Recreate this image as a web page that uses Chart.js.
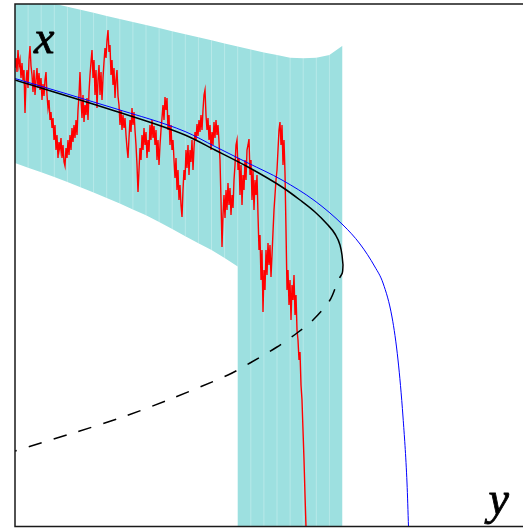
<!DOCTYPE html>
<html><head><meta charset="utf-8">
<script src="https://cdn.jsdelivr.net/npm/chart.js@4.4.1/dist/chart.umd.min.js"></script>
<style>html,body{margin:0;padding:0;background:#fff;overflow:hidden}</style>
</head><body>
<canvas id="c" width="523" height="528"></canvas>
<script>
const axisNames = ['x', 'y'];
const bandX = [0,1.31,2.62,3.93,5.24,6.55,7.86,9.17,10.48,11.79,13.1,14.41,15.72,17.03,18.34,19.65,20.96,22.27,23.58,24.89,26.2,27.51,28.82,30.13,31.44,32.75];
const bandUpper = [53.2,52.89,52.59,52.28,51.98,51.67,51.37,51.06,50.76,50.45,50.15,49.84,49.53,49.23,48.92,48.62,48.31,48.01,47.7,47.4,47.15,46.88,46.82,46.88,47.15,48.08];
const bandLower = [36.35,35.88,35.42,34.95,34.45,33.92,33.39,32.86,32.29,31.71,31.13,30.45,29.74,29.03,28.33,27.64,26.85,26.0];
const bandFloor = 0;
const blackSolidU = [0,10,17,20,23.3,26.7,28.5,30,31.2,32,32.5,32.7,32.8];
const blackSolidV = [44.65,41.55,39.15,37.65,35.95,33.95,32.65,31.45,30.25,29.25,28.15,27.15,26.15];
const blackDashU = [32.8,32.73,32.33,31.5,29.8,28.2,26.2,23.5,21.3,15.3,10.5,5.5,0];
const blackDashV = [26.15,25.35,24.65,22.65,20.65,19.35,17.95,16.35,15.15,12.65,10.85,9.25,7.55];
const blueU = [0,10,17,20,23.3,26.7,30,32.8,34.5,36,36.8,37.7,38.3,38.8,39.2,39.35];
const blueV = [44.8,41.8,39.5,38.0,36.35,34.65,32.55,30.15,28.25,25.95,24.35,20.95,16.65,10.95,4.35,-0.05];
const redStart = 0, redStep = 0.1;
const redV = [
45.85,46.85,45.45,47.65,46.05,46.65,44.85,46.35,44.65,45.65,
41.35,44.45,45.65,43.85,46.65,48.05,46.05,45.15,43.45,45.65,
43.15,44.65,45.85,43.85,45.35,43.65,44.85,42.65,44.25,43.05,
44.65,45.45,43.15,41.85,42.65,40.65,41.45,39.85,40.85,38.65,
40.15,37.65,39.15,36.85,38.45,37.65,38.85,36.85,38.15,36.45,
36.05,37.85,36.85,38.65,37.15,39.15,37.65,39.85,38.45,40.15,
38.85,40.65,39.15,41.65,43.15,45.45,42.65,40.85,43.15,40.45,
42.15,41.15,42.85,40.65,43.45,45.15,46.45,47.65,44.85,46.65,
43.15,45.65,41.85,44.65,46.15,43.15,45.45,42.65,44.85,46.45,
47.85,46.85,48.65,49.65,47.45,48.15,45.15,46.65,44.15,45.85,
42.85,44.65,45.65,43.05,42.15,40.15,41.65,39.65,41.15,39.85,
40.85,39.15,37.85,36.85,38.85,40.65,39.45,41.85,40.15,41.45,
39.65,38.15,36.15,33.45,35.65,37.85,36.65,39.15,37.65,39.85,
38.15,39.45,36.85,38.65,37.45,40.15,38.65,40.65,38.85,40.05,
38.15,39.65,36.65,38.65,36.15,38.15,39.65,40.85,42.15,40.65,
42.95,41.65,42.85,39.65,41.15,38.15,40.15,37.65,38.65,36.65,
34.85,36.85,33.65,35.65,32.65,34.15,32.15,30.95,33.65,35.65,
34.65,37.65,35.85,38.15,35.15,37.65,36.45,38.65,35.65,37.85,
39.45,38.65,40.25,39.05,40.65,39.45,41.15,39.65,41.65,43.15,
43.65,41.15,39.65,40.85,38.65,40.15,37.65,39.45,38.15,40.45,
38.85,40.65,39.15,40.15,38.45,36.65,32.65,27.95,31.15,33.15,
30.85,33.65,31.65,34.35,32.15,33.85,31.15,33.15,31.85,34.65,
36.15,38.15,38.65,35.65,36.85,33.15,36.15,32.15,35.15,33.65,
36.65,34.65,37.65,38.15,38.75,35.15,36.65,32.65,35.65,31.65,
34.65,33.15,35.15,31.15,27.65,29.15,24.65,27.65,21.45,25.65,
23.65,27.65,25.15,28.35,26.15,28.15,24.95,27.15,29.45,31.65,
33.15,34.65,35.65,37.65,39.65,40.45,38.15,40.15,36.15,38.65,
35.35,29.65,23.65,25.65,22.15,24.65,20.65,24.15,22.65,25.15,
21.15,23.15,19.65,18.65,16.65,17.45,14.15,12.65,9.65,6.65,
3.15,-0.05
];

const pts = (u, v) => u.map((x, i) => ({x, y: v[i]}));
const lowerPts = bandLower.map((y, k) => ({x: bandX[k], y}));
lowerPts.push({x: bandX[bandLower.length - 1], y: bandFloor});
for (let k = bandLower.length; k < bandX.length; k++) lowerPts.push({x: bandX[k], y: bandFloor});
const upperPts = bandUpper.map((y, k) => ({x: bandX[k], y}));
const seamSets = [];
for (let k = 1; k < bandX.length - 1; k++) {
  const lo = k < bandLower.length ? bandLower[k] : bandFloor;
  seamSets.push({
    data: [{x: bandX[k], y: lo}, {x: bandX[k], y: bandUpper[k]}],
    borderWidth: 1, borderColor: 'rgba(255,255,255,0.28)', fill: false, order: 9
  });
}
const redPts = redV.map((y, i) => ({x: redStart + i * redStep, y}));

const framePlugin = {
  id: 'frame',
  afterDatasetsDraw(chart) {
    const {ctx, chartArea: a} = chart;
    ctx.save();
    ctx.strokeStyle = '#1a1a1a';
    ctx.lineWidth = 1.5;
    ctx.beginPath();
    ctx.moveTo(a.right + 5, a.top);
    ctx.lineTo(a.left, a.top);
    ctx.lineTo(a.left, a.bottom);
    ctx.lineTo(a.right + 5, a.bottom);
    ctx.stroke();
    ctx.fillStyle = '#000';
    ctx.strokeStyle = '#000';
    ctx.lineWidth = 0.8;
    ctx.font = 'italic 46px "Liberation Serif"';
    ctx.textBaseline = 'alphabetic';
    ctx.textAlign = 'left';
    ctx.fillText(axisNames[0], a.left + 19, a.top + 49);
    ctx.strokeText(axisNames[0], a.left + 19, a.top + 49);
    ctx.textAlign = 'right';
    ctx.fillText(axisNames[1], a.right - 14, a.bottom - 13);
    ctx.strokeText(axisNames[1], a.right - 14, a.bottom - 13);
    ctx.restore();
  }
};

new Chart(document.getElementById('c'), {
  type: 'line',
  data: {
    datasets: [
      {data: lowerPts, borderWidth: 0, borderColor: 'rgba(0,0,0,0)', fill: false, order: 10},
      {data: upperPts, borderWidth: 0, borderColor: 'rgba(0,0,0,0)', backgroundColor: 'rgb(157,224,224)', fill: '-1', order: 10},
      {data: redPts, borderWidth: 1.4, borderColor: '#ff0000', fill: false, order: 6},
      {data: pts(blackSolidU, blackSolidV), borderWidth: 1.5, borderColor: '#000', fill: false, cubicInterpolationMode: 'monotone', order: 4},
      {data: pts(blackDashU, blackDashV), borderWidth: 1.5, borderColor: '#000', borderDash: [13.5, 12.5], fill: false, tension: 0.3, order: 4},
      {data: pts(blueU, blueV), borderWidth: 1, borderColor: '#0000ff', fill: false, cubicInterpolationMode: 'monotone', order: 3},
      ...seamSets
    ]
  },
  options: {
    responsive: false,
    animation: false,
    devicePixelRatio: 1,
    events: [],
    layout: {padding: {left: 15, top: 4, right: 0, bottom: 1.5}},
    elements: {point: {radius: 0}, line: {tension: 0}},
    plugins: {legend: {display: false}, tooltip: {enabled: false}},
    scales: {
      x: {type: 'linear', min: 0, max: 50.8, display: false},
      y: {type: 'linear', min: 0, max: 52.25, display: false}
    }
  },
  plugins: [framePlugin]
});
</script>
</body></html>
